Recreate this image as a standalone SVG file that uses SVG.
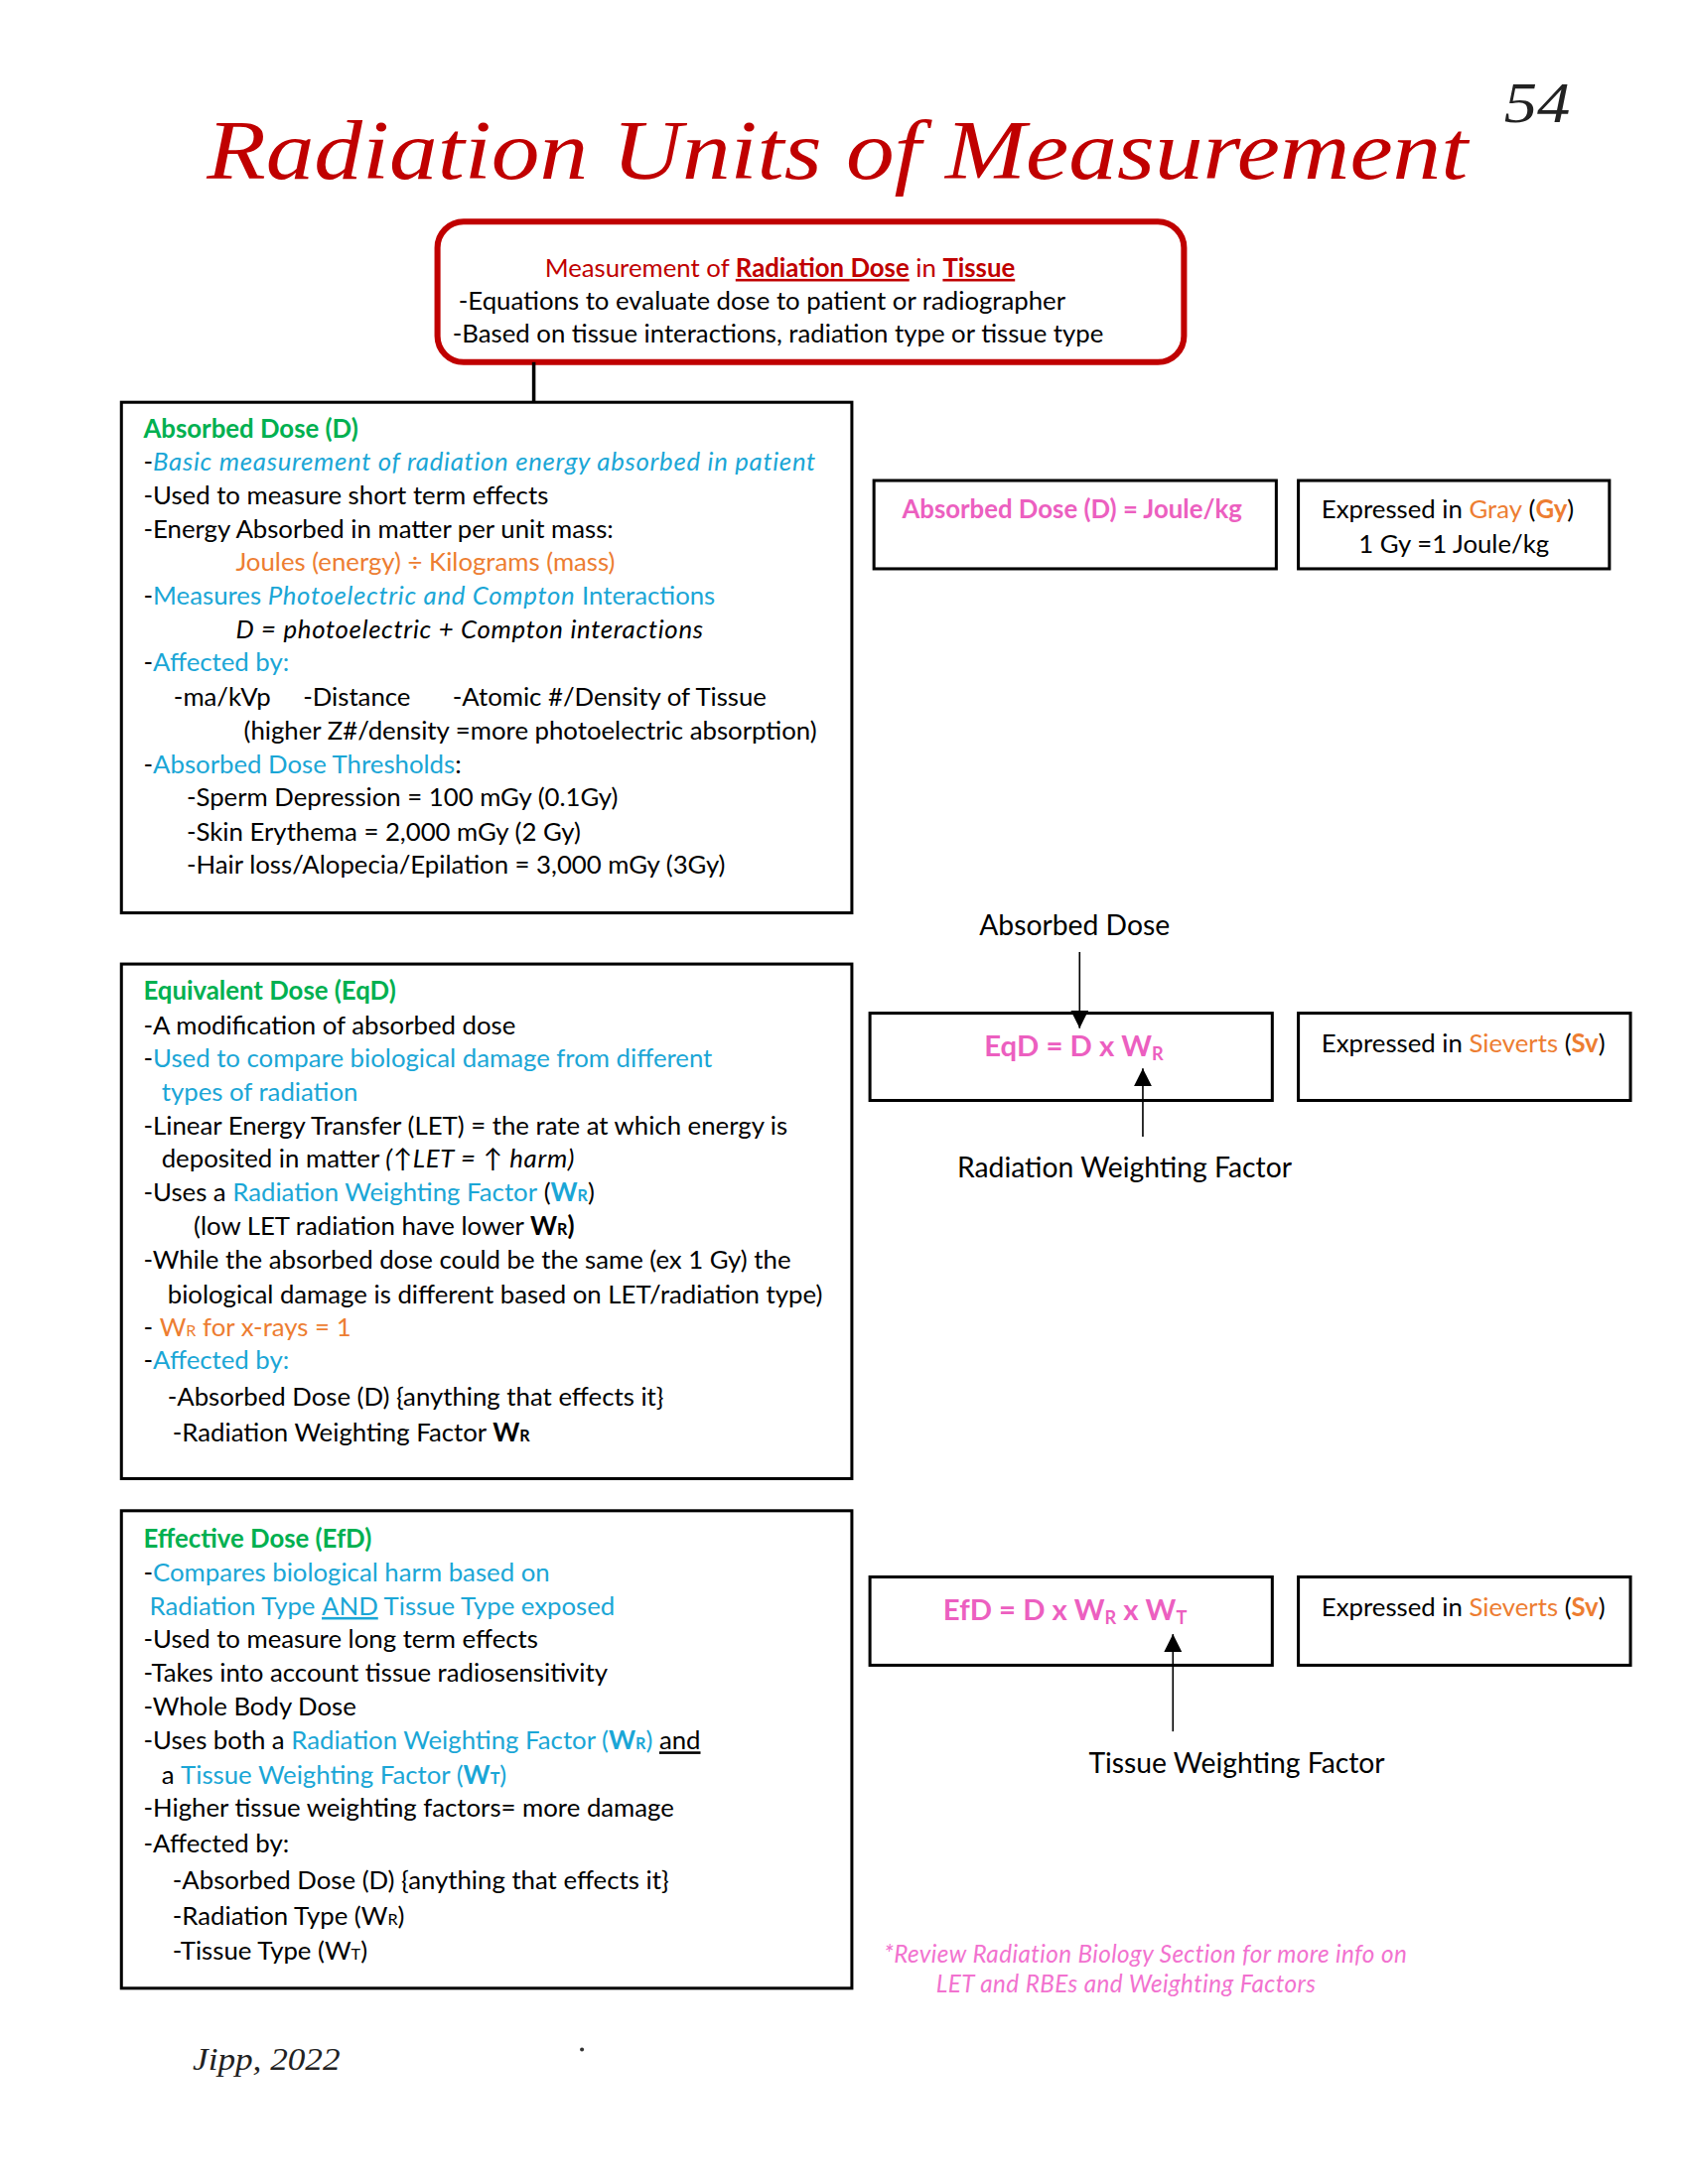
<svg xmlns="http://www.w3.org/2000/svg" width="1700" height="2200" viewBox="0 0 1700 2200">
<style>
text{font-family:Lato,"Noto Sans",sans-serif;font-size:25.5px;fill:#000}
.g{fill:#00B050;font-weight:bold}
.bl{fill:#1AA6D6}
.or{fill:#ED7D31}
.pk{fill:#EC5FC0;font-weight:bold}
.fx{font-size:29px}
.i{font-style:italic;letter-spacing:0.7px}
.b{font-weight:bold}
.u{text-decoration:underline}
.lbl{font-size:28px}
.box{fill:none;stroke:#000;stroke-width:3}
.conn{stroke:#000;stroke-width:1.6;fill:none}
</style>
<defs>
<marker id="ah" viewBox="0 0 10 10" refX="10" refY="5" markerWidth="18" markerHeight="18" markerUnits="userSpaceOnUse" orient="auto">
<path d="M0,0 L10,5 L0,10 z" fill="#000"/>
</marker>
</defs>
<rect width="1700" height="2200" fill="#fff"/>
<g transform="scale(1.0105)">

<g id="title">
<text x="206" y="178" style="font-family:'Liberation Serif',serif;font-style:italic;font-size:84px;fill:#C00000" textLength="1257" lengthAdjust="spacingAndGlyphs">Radiation Units of Measurement</text>
<text x="1499" y="122" style="font-family:'Liberation Serif',serif;font-style:italic;font-size:56px;fill:#222" textLength="66" lengthAdjust="spacingAndGlyphs">54</text>
</g>

<g id="top-node">
<rect x="436" y="221" width="744" height="140" rx="26" fill="#fff" stroke="#C00000" stroke-width="6"/>
<text x="543" y="276" style="fill:#C00000"><tspan>Measurement of </tspan><tspan class="b u">Radiation Dose</tspan><tspan> in </tspan><tspan class="b u">Tissue</tspan></text>
<text x="457" y="309">-Equations to evaluate dose to patient or radiographer</text>
<text x="451" y="341">-Based on tissue interactions, radiation type or tissue type</text>
</g>

<g id="connectors">
<line x1="532" y1="361" x2="532" y2="401" stroke="#000" stroke-width="3.5"/>
<line class="conn" x1="1076" y1="949" x2="1076" y2="1025" marker-end="url(#ah)"/>
<line class="conn" x1="1139" y1="1133" x2="1139" y2="1065" marker-end="url(#ah)"/>
<line class="conn" x1="1169" y1="1726" x2="1169" y2="1629" marker-end="url(#ah)"/>
</g>

<g id="absorbed-dose">
<rect class="box" x="121" y="401" width="728" height="509"/>
<text x="143" y="436" class="g">Absorbed Dose (D)</text>
<text x="143" y="469">-<tspan class="bl i">Basic measurement of radiation energy absorbed in patient</tspan></text>
<text x="143" y="503">-Used to measure short term effects</text>
<text x="143" y="536">-Energy Absorbed in matter per unit mass:</text>
<text x="235" y="569" class="or">Joules (energy) ÷ Kilograms (mass)</text>
<text x="143" y="603">-<tspan class="bl">Measures </tspan><tspan class="bl i">Photoelectric and Compton</tspan><tspan class="bl"> Interactions</tspan></text>
<text x="235" y="636" class="i">D = photoelectric + Compton interactions</text>
<text x="143" y="669">-<tspan class="bl">Affected by:</tspan></text>
<text x="173" y="704">-ma/kVp</text>
<text x="302" y="704">-Distance</text>
<text x="451" y="704">-Atomic #/Density of Tissue</text>
<text x="243" y="737">(higher Z#/density =more photoelectric absorption)</text>
<text x="143" y="771">-<tspan class="bl">Absorbed Dose Thresholds</tspan>:</text>
<text x="186" y="804">-Sperm Depression = 100 mGy (0.1Gy)</text>
<text x="186" y="838">-Skin Erythema = 2,000 mGy (2 Gy)</text>
<text x="186" y="871">-Hair loss/Alopecia/Epilation = 3,000 mGy (3Gy)</text>
</g>

<g id="absorbed-formula">
<rect class="box" x="871" y="479" width="401" height="88"/>
<text x="899" y="517" class="pk">Absorbed Dose (D) = Joule/kg</text>
</g>

<g id="gray-unit">
<rect class="box" x="1294" y="479" width="310" height="88"/>
<text x="1317" y="517">Expressed in <tspan class="or">Gray</tspan> (<tspan class="or b">Gy</tspan>)</text>
<text x="1354" y="551">1 Gy =1 Joule/kg</text>
</g>

<g id="equivalent-dose">
<rect class="box" x="121" y="961" width="728" height="513"/>
<text x="143" y="997" class="g">Equivalent Dose (EqD)</text>
<text x="143" y="1031">-A modification of absorbed dose</text>
<text x="143" y="1064">-<tspan class="bl">Used to compare biological damage from different</tspan></text>
<text x="161" y="1097" class="bl">types of radiation</text>
<text x="143" y="1131">-Linear Energy Transfer (LET) = the rate at which energy is</text>
<text x="161" y="1164">deposited in matter <tspan class="i">(↑LET = ↑ harm)</tspan></text>
<text x="143" y="1197">-Uses a <tspan class="bl">Radiation Weighting Factor</tspan> (<tspan class="bl b">W</tspan><tspan class="bl b" font-size="16">R</tspan>)</text>
<text x="193" y="1231">(low LET radiation have lower <tspan class="b">W</tspan><tspan class="b" font-size="16">R</tspan><tspan class="b">)</tspan></text>
<text x="143" y="1265">-While the absorbed dose could be the same (ex 1 Gy) the</text>
<text x="167" y="1299">biological damage is different based on LET/radiation type)</text>
<text x="143" y="1332">- <tspan class="or">W</tspan><tspan class="or" font-size="16">R</tspan><tspan class="or"> for x-rays = 1</tspan></text>
<text x="143" y="1365">-<tspan class="bl">Affected by:</tspan></text>
<text x="167" y="1401">-Absorbed Dose (D) {anything that effects it}</text>
<text x="172" y="1437">-Radiation Weighting Factor <tspan class="b">W</tspan><tspan class="b" font-size="16">R</tspan></text>
</g>

<g id="eqd-formula">
<text x="976" y="932" class="lbl">Absorbed Dose</text>
<rect class="box" x="867" y="1010" width="401" height="87"/>
<text x="981" y="1053" class="pk fx">EqD = D x W<tspan font-size="18" dy="4">R</tspan></text>
<text x="954" y="1174" class="lbl">Radiation Weighting Factor</text>
</g>

<g id="sievert-unit-1">
<rect class="box" x="1294" y="1010" width="331" height="87"/>
<text x="1317" y="1049">Expressed in <tspan class="or">Sieverts</tspan> (<tspan class="or b">Sv</tspan>)</text>
</g>

<g id="effective-dose">
<rect class="box" x="121" y="1506" width="728" height="476"/>
<text x="143" y="1543" class="g">Effective Dose (EfD)</text>
<text x="143" y="1576">-<tspan class="bl">Compares biological harm based on</tspan></text>
<text x="149" y="1610" class="bl">Radiation Type <tspan class="u">AND</tspan> Tissue Type exposed</text>
<text x="143" y="1643">-Used to measure long term effects</text>
<text x="143" y="1676">-Takes into account tissue radiosensitivity</text>
<text x="143" y="1710">-Whole Body Dose</text>
<text x="143" y="1744">-Uses both a <tspan class="bl">Radiation Weighting Factor (</tspan><tspan class="bl b">W</tspan><tspan class="bl b" font-size="16">R</tspan><tspan class="bl">)</tspan> <tspan class="u">and</tspan></text>
<text x="161" y="1778">a <tspan class="bl">Tissue Weighting Factor (</tspan><tspan class="bl b">W</tspan><tspan class="bl b" font-size="16">T</tspan><tspan class="bl">)</tspan></text>
<text x="143" y="1811">-Higher tissue weighting factors= more damage</text>
<text x="143" y="1847">-Affected by:</text>
<text x="172" y="1883">-Absorbed Dose (D) {anything that effects it}</text>
<text x="172" y="1919">-Radiation Type (W<tspan font-size="16">R</tspan>)</text>
<text x="172" y="1953">-Tissue Type (W<tspan font-size="16">T</tspan>)</text>
</g>

<g id="efd-formula">
<rect class="box" x="867" y="1572" width="401" height="88"/>
<text x="940" y="1615" class="pk fx">EfD = D x W<tspan font-size="18" dy="4">R</tspan><tspan dy="-4"> x W</tspan><tspan font-size="18" dy="4">T</tspan></text>
<text x="1085" y="1767" class="lbl">Tissue Weighting Factor</text>
</g>

<g id="sievert-unit-2">
<rect class="box" x="1294" y="1572" width="331" height="88"/>
<text x="1317" y="1611">Expressed in <tspan class="or">Sieverts</tspan> (<tspan class="or b">Sv</tspan>)</text>
</g>

<g id="note">
<text x="881" y="1956" style="font-style:italic;font-size:24px;letter-spacing:0.4px;fill:#F272CF">*Review Radiation Biology Section for more info on</text>
<text x="933" y="1986" style="font-style:italic;font-size:24px;letter-spacing:0.4px;fill:#F272CF">LET and RBEs and Weighting Factors</text>
</g>

<g id="footer">
<text x="192" y="2063" style="font-family:'Liberation Serif',serif;font-style:italic;font-size:32px;fill:#222" textLength="147" lengthAdjust="spacingAndGlyphs">Jipp, 2022</text>
<circle cx="580" cy="2043" r="2" fill="#333"/>
</g>
</g>
</svg>
